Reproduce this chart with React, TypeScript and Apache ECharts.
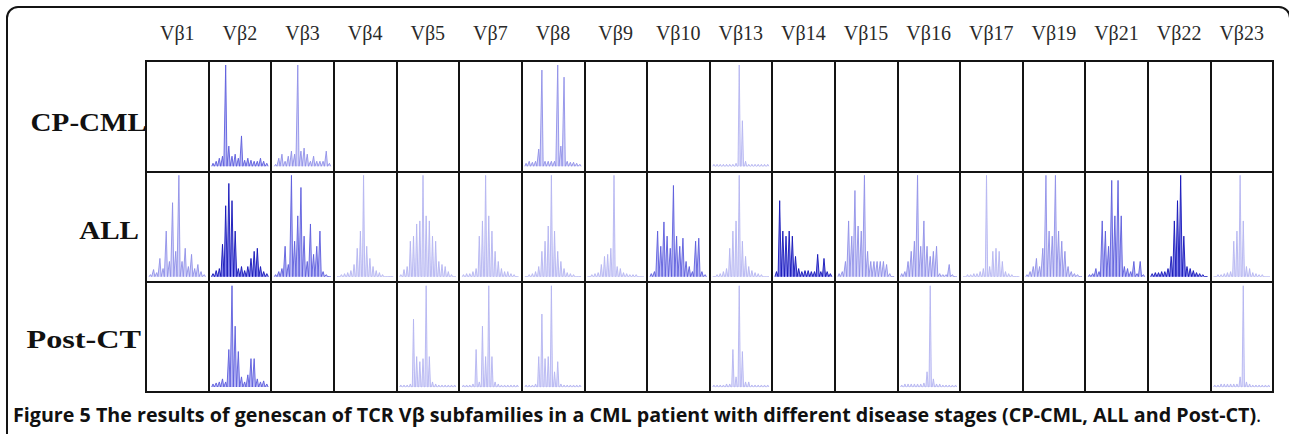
import React, { useEffect, useRef } from "react";
import * as echarts from "echarts";

// ---------- DATA ----------
const COLUMNS = ["Vβ1", "Vβ2", "Vβ3", "Vβ4", "Vβ5", "Vβ7", "Vβ8", "Vβ9", "Vβ10", "Vβ13", "Vβ14", "Vβ15", "Vβ16", "Vβ17", "Vβ19", "Vβ21", "Vβ22", "Vβ23"];
const ROWS = ["CP-CML", "ALL", "Post-CT"];
const CAPTION_TITLE = "Figure 5";
const CAPTION_TEXT = "The results of genescan of TCR Vβ subfamilies in a CML patient with different disease stages (CP-CML, ALL and Post-CT)";

// Peak heights (% of the tallest peak) in 18 size slots across each cell
const CP_VB2 = [3, 5, 8, 10, 100, 20, 10, 12, 8, 30, 6, 8, 6, 5, 5, 8, 5, 3];
const CP_VB3 = [2, 8, 12, 5, 10, 15, 12, 100, 15, 18, 12, 5, 10, 5, 5, 5, 15, 3];
const CP_VB8 = [3, 5, 4, 5, 17, 95, 5, 5, 5, 5, 100, 20, 88, 5, 4, 4, 3, 2];
const CP_VB13 = [2, 2, 2, 2, 2, 2, 2, 3, 100, 45, 5, 2, 2, 2, 2, 2, 2, 2];

const ALL_VB1 = [2, 7, 4, 18, 8, 45, 15, 73, 25, 100, 15, 28, 10, 22, 8, 12, 5, 2];
const ALL_VB2 = [3, 6, 8, 32, 70, 92, 75, 45, 8, 10, 6, 10, 18, 25, 28, 10, 5, 3];
const ALL_VB3 = [2, 5, 8, 30, 12, 100, 35, 60, 88, 40, 15, 52, 22, 30, 45, 5, 2, 0];
const ALL_VB4 = [0, 2, 3, 4, 6, 12, 28, 45, 100, 30, 18, 10, 6, 4, 2, 0, 0, 0];
const ALL_VB5 = [2, 7, 10, 35, 40, 52, 55, 100, 60, 55, 40, 35, 15, 12, 10, 5, 2, 0];
const ALL_VB7 = [2, 3, 3, 5, 8, 40, 55, 100, 60, 45, 25, 15, 8, 5, 5, 3, 2, 0];
const ALL_VB8 = [0, 2, 3, 5, 10, 25, 35, 50, 100, 45, 25, 15, 8, 4, 3, 2, 0, 0];
const ALL_VB9 = [0, 2, 3, 4, 12, 20, 22, 28, 100, 10, 8, 4, 3, 2, 2, 2, 0, 0];
const ALL_VB10 = [3, 5, 45, 30, 54, 40, 28, 90, 40, 30, 38, 15, 10, 5, 35, 38, 5, 2];
const ALL_VB13 = [0, 2, 3, 5, 8, 28, 45, 55, 100, 35, 20, 10, 6, 4, 3, 2, 0, 0];
const ALL_VB14 = [5, 75, 45, 40, 45, 40, 20, 8, 5, 6, 6, 5, 5, 22, 5, 18, 5, 3];
const ALL_VB15 = [3, 5, 15, 55, 40, 85, 50, 45, 100, 25, 15, 15, 15, 15, 15, 12, 3, 0];
const ALL_VB16 = [3, 5, 15, 25, 35, 100, 30, 55, 30, 20, 25, 30, 3, 2, 2, 12, 2, 0];
const ALL_VB17 = [0, 2, 2, 3, 3, 5, 8, 100, 10, 25, 28, 25, 15, 5, 3, 2, 0, 0];
const ALL_VB19 = [2, 5, 10, 18, 10, 28, 100, 45, 40, 100, 45, 35, 25, 10, 5, 3, 2, 0];
const ALL_VB21 = [2, 3, 8, 5, 55, 45, 30, 95, 60, 95, 60, 10, 8, 5, 15, 3, 15, 2];
const ALL_VB22 = [3, 4, 4, 5, 5, 8, 20, 55, 75, 100, 40, 10, 8, 6, 4, 3, 2, 0];
const ALL_VB23 = [0, 2, 2, 3, 4, 5, 35, 45, 100, 55, 10, 8, 4, 3, 2, 2, 0, 0];

const POST_VB2 = [3, 4, 5, 8, 5, 37, 100, 60, 35, 10, 5, 12, 28, 28, 8, 5, 6, 3];
const POST_VB5 = [2, 2, 2, 3, 67, 30, 25, 28, 100, 30, 5, 3, 2, 2, 2, 2, 2, 2];
const POST_VB7 = [2, 2, 2, 3, 37, 5, 60, 30, 100, 30, 5, 3, 2, 2, 2, 2, 2, 2];
const POST_VB8 = [2, 2, 2, 3, 30, 72, 28, 30, 100, 15, 25, 3, 2, 2, 2, 2, 2, 2];
const POST_VB13 = [2, 2, 2, 2, 3, 3, 37, 10, 100, 35, 5, 5, 2, 2, 2, 2, 2, 2];
const POST_VB16 = [2, 3, 3, 3, 3, 3, 3, 4, 15, 100, 8, 3, 3, 2, 2, 2, 2, 2];
const POST_VB23 = [2, 2, 3, 3, 3, 3, 3, 3, 10, 100, 5, 3, 2, 2, 2, 2, 2, 2];

const PROFILES: Record<string, number[]> = {
  "CP-CML|Vβ2": CP_VB2, "CP-CML|Vβ3": CP_VB3, "CP-CML|Vβ8": CP_VB8, "CP-CML|Vβ13": CP_VB13,
  "ALL|Vβ1": ALL_VB1, "ALL|Vβ2": ALL_VB2, "ALL|Vβ3": ALL_VB3, "ALL|Vβ4": ALL_VB4, "ALL|Vβ5": ALL_VB5,
  "ALL|Vβ7": ALL_VB7, "ALL|Vβ8": ALL_VB8, "ALL|Vβ9": ALL_VB9, "ALL|Vβ10": ALL_VB10, "ALL|Vβ13": ALL_VB13,
  "ALL|Vβ14": ALL_VB14, "ALL|Vβ15": ALL_VB15, "ALL|Vβ16": ALL_VB16, "ALL|Vβ17": ALL_VB17, "ALL|Vβ19": ALL_VB19,
  "ALL|Vβ21": ALL_VB21, "ALL|Vβ22": ALL_VB22, "ALL|Vβ23": ALL_VB23,
  "Post-CT|Vβ2": POST_VB2, "Post-CT|Vβ5": POST_VB5, "Post-CT|Vβ7": POST_VB7, "Post-CT|Vβ8": POST_VB8,
  "Post-CT|Vβ13": POST_VB13, "Post-CT|Vβ16": POST_VB16, "Post-CT|Vβ23": POST_VB23,
};

// ---------- STYLE / LAYOUT ----------
const TONES: Record<string, { line: string; area: string; half: number }> = {
  light: { line: "#b4b4f0", area: "rgba(202,202,248,0.85)", half: 0.38 },
  soft: { line: "#9090e8", area: "rgba(184,184,245,0.85)", half: 0.4 },
  medium: { line: "#5c5cdc", area: "rgba(140,140,238,0.85)", half: 0.42 },
  dark: { line: "#1414b8", area: "rgba(60,60,222,0.9)", half: 0.5 },
};
const CELL_TONE: Record<string, string> = {
  "ALL|Vβ2": "dark", "ALL|Vβ14": "dark", "ALL|Vβ22": "dark",
  "CP-CML|Vβ2": "medium", "Post-CT|Vβ2": "medium", "ALL|Vβ3": "medium", "ALL|Vβ10": "medium", "ALL|Vβ21": "medium",
  "ALL|Vβ1": "soft", "ALL|Vβ19": "soft", "ALL|Vβ15": "soft", "CP-CML|Vβ3": "soft", "CP-CML|Vβ8": "soft", "ALL|Vβ16": "soft",
};
const T_LEFT = 146, T_TOP = 61, T_W = 1127, T_H = 331;
const ROW_LABEL_RIGHT = [147, 139, 141];
const ROW_LABEL_Y = [122, 230, 339];
const ROW_LABEL_SCALE = [1.12, 1.12, 1.24];
const LINE = "#141414";

function spikes(heights: number[], half: number) {
  const pts: number[][] = [];
  heights.forEach((h, i) => {
    pts.push([i - half, 0], [i, h], [i + half, 0]);
  });
  return pts;
}

function buildOption() {
  const colW = T_W / COLUMNS.length;
  const rowH = T_H / ROWS.length;
  const grid: any[] = [
    { left: T_LEFT, top: T_TOP, width: T_W, height: T_H, show: true, borderColor: LINE, borderWidth: 2, backgroundColor: "transparent" },
  ];
  const xAxis: any[] = [
    {
      type: "category", gridIndex: 0, data: COLUMNS, position: "top", boundaryGap: true,
      axisLine: { show: false }, axisTick: { show: false },
      axisLabel: { interval: 0, margin: 18, fontFamily: '"Liberation Serif", serif', fontSize: 20, color: "#2a2a2a" },
      splitLine: { show: true, interval: 0, lineStyle: { color: LINE, width: 2 } },
    },
  ];
  const yAxis: any[] = [
    {
      type: "category", gridIndex: 0, data: ROWS, inverse: true, boundaryGap: true,
      axisLine: { show: false }, axisTick: { show: false }, axisLabel: { show: false },
      splitLine: { show: true, interval: 0, lineStyle: { color: LINE, width: 2 } },
    },
  ];
  const series: any[] = [];
  ROWS.forEach((row, r) => {
    COLUMNS.forEach((col, c) => {
      const key = row + "|" + col;
      const prof = PROFILES[key];
      if (!prof) return;
      const tone = TONES[CELL_TONE[key] || "light"];
      const gi = grid.length;
      grid.push({
        left: T_LEFT + c * colW + 2.5,
        top: T_TOP + r * rowH + 4,
        width: colW - 5,
        height: rowH - 9,
      });
      xAxis.push({ type: "value", gridIndex: gi, min: -0.6, max: prof.length - 0.4, show: false });
      yAxis.push({ type: "value", gridIndex: gi, min: 0, max: 100, show: false });
      series.push({
        type: "line", xAxisIndex: gi, yAxisIndex: gi, data: spikes(prof, tone.half),
        symbol: "none", silent: true,
        lineStyle: { color: tone.line, width: 0.9 },
        areaStyle: { color: tone.area, origin: "start" },
      });
    });
  });

  const graphic: any[] = [
    {
      type: "rect", shape: { x: 7, y: 7, width: 1283, height: 470, r: 11 },
      style: { fill: "none", stroke: LINE, lineWidth: 2 }, silent: true, z: 10,
    },
    ...ROWS.map((row, r) => ({
      type: "text", x: ROW_LABEL_RIGHT[r], y: ROW_LABEL_Y[r], scaleX: ROW_LABEL_SCALE[r],
      style: {
        text: row, font: 'bold 26px "Liberation Serif", serif', fill: "#111",
        align: "right", verticalAlign: "middle", textAlign: "right", textVerticalAlign: "middle",
      },
      z: 20,
    })),
    {
      type: "text", x: 13, y: 414,
      style: {
        text: "{b|" + CAPTION_TITLE + " " + CAPTION_TEXT + "}{n|.}",
        rich: {
          b: { font: 'bold 19.7px "Open Sans", sans-serif', fill: "#111" },
          n: { font: '19.7px "Open Sans", sans-serif', fill: "#111" },
        },
        verticalAlign: "middle", textVerticalAlign: "middle",
      },
      z: 20,
    },
  ];

  return { animation: false, backgroundColor: "#fff", grid, xAxis, yAxis, series, graphic };
}

export default function App() {
  const ref = useRef<HTMLDivElement>(null);
  useEffect(() => {
    const chart = echarts.init(ref.current!, null, { renderer: "svg" });
    chart.setOption(buildOption());
    return () => chart.dispose();
  }, []);
  return (
    <div
      ref={ref}
      style={{ position: "absolute", left: 0, top: 0, width: 1289, height: 434, background: "#fff" }}
    />
  );
}
